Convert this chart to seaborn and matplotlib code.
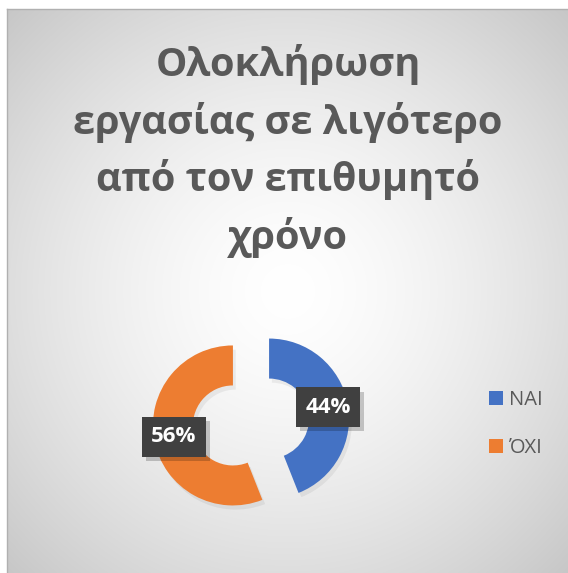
import numpy as np
import matplotlib
matplotlib.use("Agg")
import matplotlib.pyplot as plt
import matplotlib.patheffects as pe
from matplotlib.patches import Patch
import seaborn as sns

# Chart data
title = "Ολοκλήρωση\nεργασίας σε λιγότερο\nαπό τον επιθυμητό\nχρόνο"
categories = ["ΝΑΙ", "ΌΧΙ"]
shares = [44, 56]

sns.set_theme(style="white")
plt.rcParams["font.family"] = ["Open Sans", "DejaVu Sans"]
colors = sns.color_palette(["#4472C4", "#ED7D31"])

W, H = 568, 573
fig = plt.figure(figsize=(W / 100, H / 100), dpi=100)
fig.patch.set_facecolor("white")

# Panel with a soft radial gradient (white centre, grey edges)
left_px, top_px = 7, 9
pw, ph = W - left_px, H - top_px
bg = fig.add_axes([left_px / W, 0, pw / W, ph / H])
yy, xx = np.mgrid[0:ph, 0:pw]
cx, cy = pw * 0.5, ph * 0.5
d = np.sqrt(((xx - cx) / cx) ** 2 + ((yy - cy) / cy) ** 2) / np.sqrt(2)
val = 1.0 - 0.22 * np.clip(d, 0, 1) ** 1.5
img = np.dstack([val, val, val])
bg.imshow(img, extent=(0, pw, ph, 0), aspect="auto", interpolation="bilinear")
bg.set_xlim(0, pw)
bg.set_ylim(ph, 0)
bg.set_xticks([])
bg.set_yticks([])
for side in ("right", "bottom"):
    bg.spines[side].set_visible(False)
for side in ("top", "left"):
    bg.spines[side].set_color("#b0b0b0")
    bg.spines[side].set_linewidth(1.0)

# Title
fig.text(288 / W, 1 - 44 / H, title, ha="center", va="top",
         fontsize=28.5, fontweight="bold", color="#595959", linespacing=1.52)

# Doughnut
R_px = 80
cxp, cyp = 251, 422
box = 160
ax = fig.add_axes([(cxp - box) / W, (H - cyp - box) / H, 2 * box / W, 2 * box / H])
wedges, texts, autotexts = ax.pie(
    shares, colors=colors, startangle=90, counterclock=False,
    explode=[0.23, 0.23], radius=1.0,
    wedgeprops=dict(width=0.5, linewidth=0),
    autopct="%1.0f%%", pctdistance=0.75,
    textprops=dict(color="white", fontsize=16, fontweight="bold"),
)
lim = box / R_px
ax.set_xlim(-lim, lim)
ax.set_ylim(-lim, lim)
ax.set_aspect("equal")
ax.axis("off")

for w in wedges:
    w.set_path_effects([pe.SimplePatchShadow(offset=(2, -3), shadow_rgbFace="black", alpha=0.06),
                        pe.Normal()])

# Dark value boxes with a soft drop shadow
for t in autotexts:
    t.set_bbox(dict(boxstyle="square,pad=0.42", facecolor="#404040",
                    edgecolor="none", linewidth=0))
    t.get_bbox_patch().set_path_effects([
        pe.SimplePatchShadow(offset=(3, -3), shadow_rgbFace="black", alpha=0.2),
        pe.Normal()])

# Legend
handles = [Patch(facecolor=c, edgecolor="none") for c in colors]
fig.legend(handles, categories, loc="center left",
           bbox_to_anchor=(471 / W, 1 - 424 / H), frameon=False,
           fontsize=14.5, labelcolor="#595959", handlelength=0.7,
           handleheight=0.7, handletextpad=0.3, labelspacing=1.4)

fig.savefig("out.png", dpi=100, facecolor="white")
